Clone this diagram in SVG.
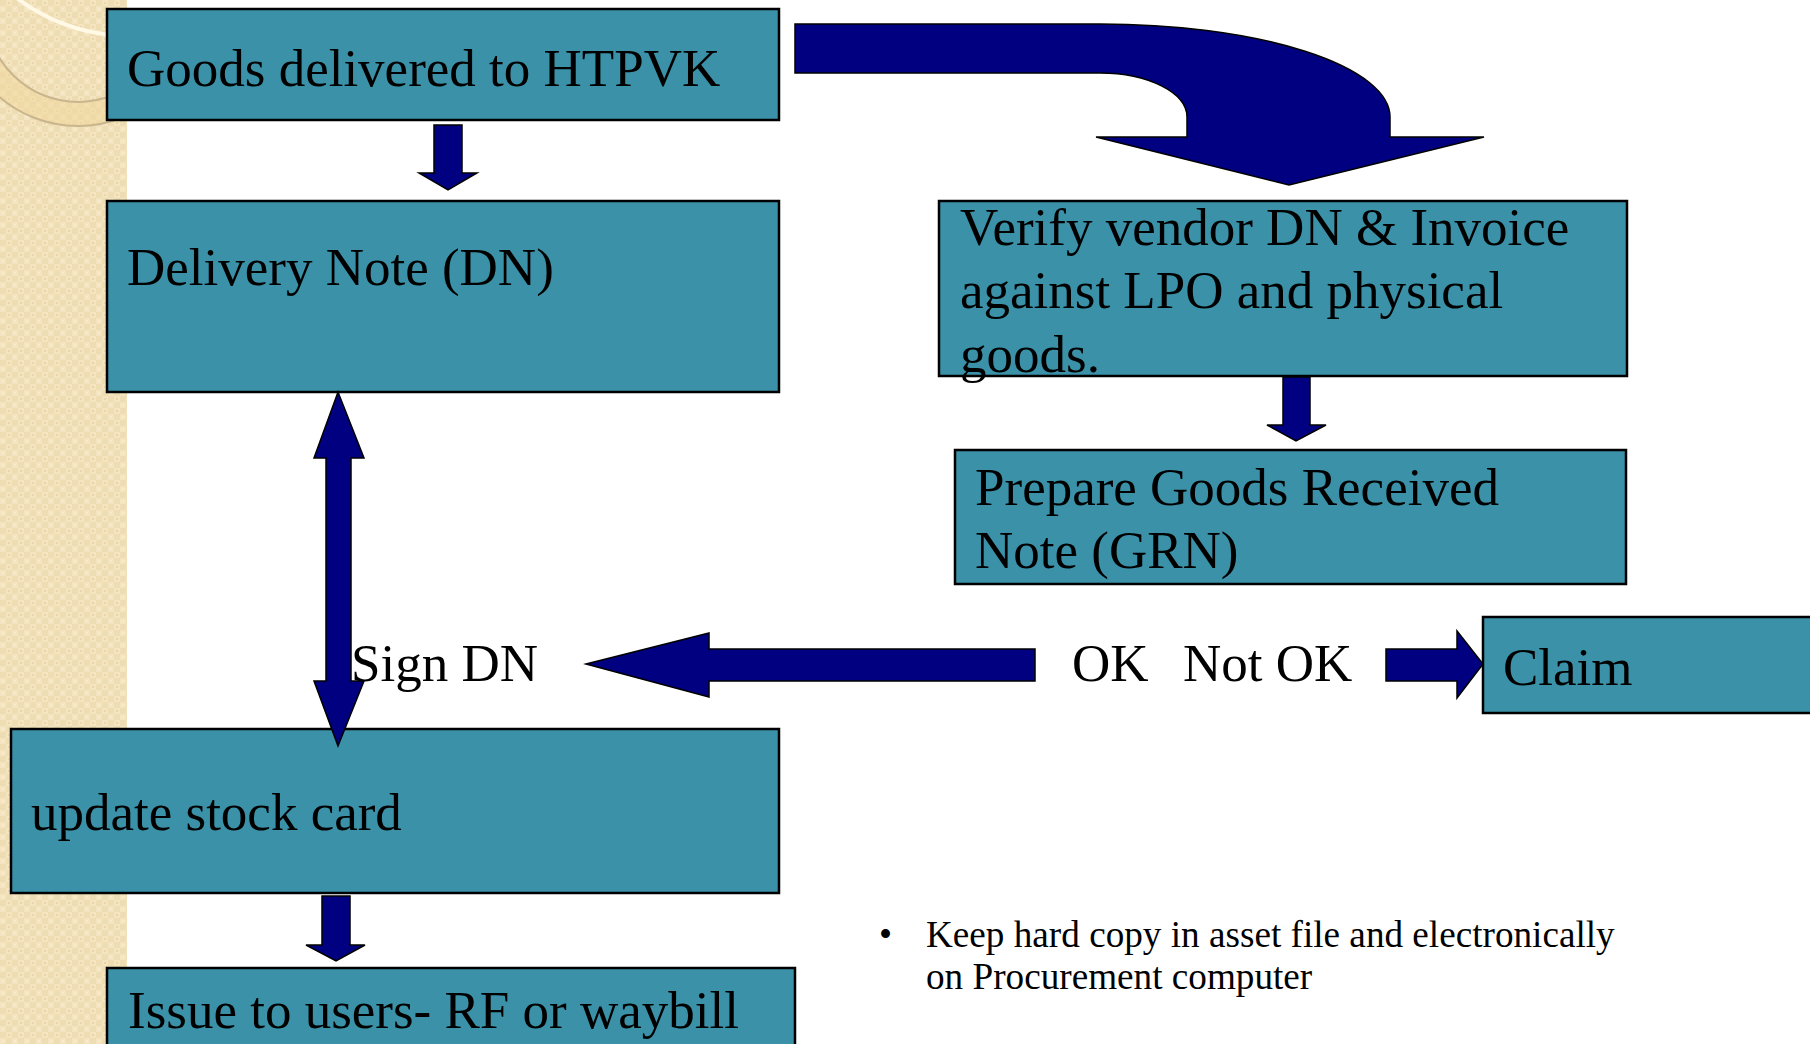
<svg xmlns="http://www.w3.org/2000/svg" width="1810" height="1044" viewBox="0 0 1810 1044">
  <defs>
    <!-- woven beige texture for the side band -->
    <pattern id="weave" width="12" height="12" patternUnits="userSpaceOnUse">
      <rect width="12" height="12" fill="#F4E4BF"/>
      <rect x="0" y="0" width="6" height="6" fill="#EEDCB2"/>
      <rect x="6" y="6" width="6" height="6" fill="#EEDCB2"/>
      <rect x="8" y="2" width="2" height="2" fill="#E8D5A8"/>
      <rect x="2" y="8" width="2" height="2" fill="#F8EBCB"/>
    </pattern>
    <clipPath id="bandClip">
      <rect x="0" y="0" width="127" height="1044"/>
    </clipPath>
    <style>
      .box { fill: #3A91A8; stroke: #000000; stroke-width: 2.5; }
      .arrow { fill: #000080; stroke: #000000; stroke-width: 1.5; stroke-linejoin: miter; }
      .lbl { font-family: "Liberation Serif", "Times New Roman", serif; font-size: 53px; fill: #000000; }
      .note { font-family: "Liberation Serif", "Times New Roman", serif; font-size: 37.2px; fill: #000000; }
    </style>
  </defs>

  <!-- page -->
  <rect x="0" y="0" width="1810" height="1044" fill="#FFFFFF"/>

  <!-- decorative side band with arcs -->
  <g id="side-band">
    <rect x="0" y="0" width="127" height="1044" fill="url(#weave)"/>
    <g clip-path="url(#bandClip)">
      <path d="M -14,10 A 92,92 0 0 0 170,10 L 199,5 A 121,121 0 0 1 -43,5 Z" fill="#F1D79E" opacity="0.55"/>
      <circle cx="78" cy="10" r="92" fill="none" stroke="#C9B58E" stroke-width="2"/>
      <circle cx="78" cy="5" r="121" fill="none" stroke="#C9B58E" stroke-width="2"/>
      <path d="M 14,-4 Q 58,30 112,35" fill="none" stroke="#FFF9E6" stroke-width="4"/>
    </g>
  </g>

  <g id="goods-delivered">
    <rect class="box" x="107" y="9" width="672" height="111"/>
    <text class="lbl" x="127" y="86">Goods delivered to HTPVK</text>
  </g>

  <g id="delivery-note">
    <rect class="box" x="107" y="201" width="672" height="191"/>
    <text class="lbl" x="127" y="285">Delivery Note (DN)</text>
  </g>

  <g id="verify">
    <rect class="box" x="939" y="201" width="688" height="175"/>
    <text class="lbl" x="960" y="245">Verify vendor DN &amp; Invoice</text>
    <text class="lbl" x="960" y="308">against LPO and physical</text>
    <text class="lbl" x="960" y="372">goods.</text>
  </g>

  <g id="grn">
    <rect class="box" x="955" y="450" width="671" height="134"/>
    <text class="lbl" x="975" y="505">Prepare Goods Received</text>
    <text class="lbl" x="975" y="568">Note (GRN)</text>
  </g>

  <g id="claim">
    <rect class="box" x="1483" y="617" width="340" height="96"/>
    <text class="lbl" x="1503" y="685">Claim</text>
  </g>

  <g id="stock-card">
    <rect class="box" x="11" y="729" width="768" height="164"/>
    <text class="lbl" x="31" y="830">update stock card</text>
  </g>

  <g id="issue">
    <rect class="box" x="107" y="968" width="688" height="90"/>
    <text class="lbl" x="128" y="1028">Issue to users- RF or waybill</text>
  </g>

  <!-- connectors, drawn over the boxes -->
  <g id="connectors">
    <!-- goods delivered -> delivery note -->
    <polygon class="arrow" points="434,125 462,125 462,173 477,173 448,190 419,173 434,173"/>
    <!-- goods delivered -> verify (curved) -->
    <path class="arrow" d="M 795,24 L 1100,24 A 290,93 0 0 1 1390,117 L 1390,137 L 1484,137 L 1289,185 L 1096,137 L 1187,137 L 1187,117 A 87,44 0 0 0 1100,73 L 795,73 Z"/>
    <!-- verify -> GRN -->
    <polygon class="arrow" points="1283,377 1310,377 1310,425 1326,425 1296,441 1267,425 1283,425"/>
    <!-- OK -> sign DN -->
    <polygon class="arrow" points="586,664 709,633 709,649 1035,649 1035,681 709,681 709,697"/>
    <!-- not OK -> claim -->
    <polygon class="arrow" points="1386,649 1457,649 1457,631 1483,664 1457,698 1457,681 1386,681"/>
    <!-- delivery note <-> stock card -->
    <polygon class="arrow" points="338,392 364,458 351,458 351,681 364,681 338,746 314,681 326,681 326,458 314,458"/>
    <!-- stock card -> issue -->
    <polygon class="arrow" points="322,896 350,896 350,945 365,945 336,961 306,945 322,945"/>
  </g>

  <!-- decision labels -->
  <g id="labels">
    <text class="lbl" x="351" y="681">Sign DN</text>
    <text class="lbl" y="681"><tspan x="1072">OK</tspan><tspan x="1183">Not OK</tspan></text>
  </g>

  <!-- filing note -->
  <g id="filing-note">
    <text class="note" x="879" y="947">•</text>
    <text class="note" x="926" y="947">Keep hard copy in asset file and electronically</text>
    <text class="note" x="926" y="989">on Procurement computer</text>
  </g>
</svg>
